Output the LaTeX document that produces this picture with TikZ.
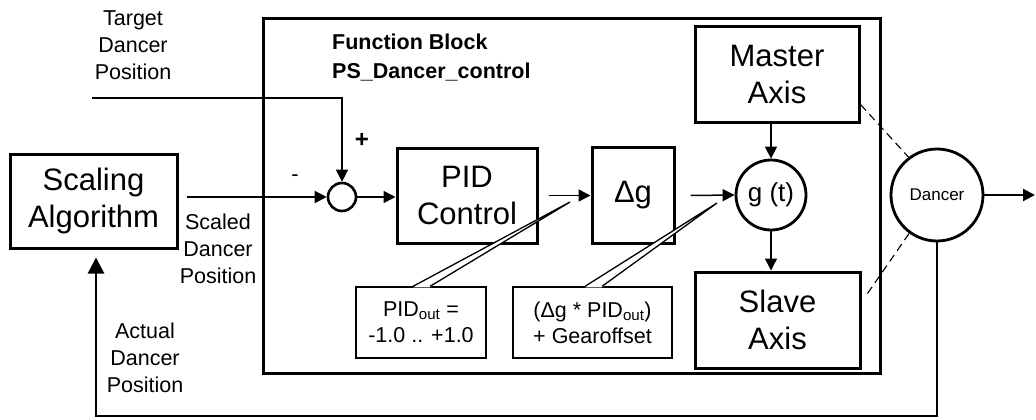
\documentclass[tikz,border=0pt]{standalone}
\usepackage{fontspec}
\setmainfont{Liberation Sans}
\usetikzlibrary{arrows.meta, positioning, calc}

\begin{document}
\begin{tikzpicture}[x=1pt, y=-1pt,
        blk/.style={draw, line width=3pt, align=center, inner sep=0pt, font=\fontsize{31}{37}\selectfont},
        note/.style={align=center, inner sep=0pt, font=\fontsize{21.5}{27}\selectfont},
        callout/.style={draw, line width=1.3pt, align=center, inner sep=0pt, font=\fontsize{21.5}{26}\selectfont},
        ring/.style={draw, circle, inner sep=0pt, line width=2.8pt},
        arr/.style={-{Triangle[length=12pt, width=12pt]}, line width=1.5pt}]
        \useasboundingbox (0,0) rectangle (1036,420);
        % function block frame
        \node[draw, line width=3pt, minimum width=617pt, minimum height=354pt] (fb) at (571.5,196) {};
        \node[anchor=west, align=left, inner sep=0pt, font=\fontsize{21.5}{29}\selectfont\bfseries] (fbtitle) at (332,57.5) {Function Block\\PS\_Dancer\_control};
        % blocks
        \node[blk, minimum width=167pt, minimum height=94pt] (scale) at (93.5,201) {Scaling\\Algorithm};
        \node[ring, line width=2.6pt, minimum size=28pt] (sum) at (342,197) {};
        \node[blk, minimum width=140pt, minimum height=95pt] (pid) at (467,195.5) {PID\\Control};
        \node[blk, minimum width=82pt, minimum height=96pt] (dg) at (633,195.5) {Δg};
        \node[ring, minimum size=70pt, font=\fontsize{26}{30}\selectfont] (gt) at (771,195) {g (t)};
        \node[blk, minimum width=164pt, minimum height=95pt] (master) at (777,74.5) {Master\\Axis};
        \node[blk, minimum width=165pt, minimum height=96pt] (slave) at (777.5,320) {Slave\\Axis};
        \node[ring, minimum size=92pt, font=\fontsize{17}{20}\selectfont] (dancer) at (937,195) {Dancer};
        % labels
        \node[note] (target) at (133,45) {Target\\Dancer\\Position};
        \node[note] (scaled) at (218,249) {Scaled\\Dancer\\Position};
        \node[note] (actual) at (145,358) {Actual\\Dancer\\Position};
        \node[font=\fontsize{24}{28}\selectfont\bfseries] (plus) at (362,140) {+};
        \node[font=\fontsize{22}{26}\selectfont] (minus) at (295,178) {-};
        % signal flow
        \coordinate (tgt) at (92,98);
        \coordinate (out) at (1035,195);
        \coordinate (loop) at (96,416);
        \draw[arr, line width=1.1pt] (tgt) -| (sum.north);
        \draw[arr] ($(sum.west -| scale.east)+(8,0)$) -- (sum.west);
        \draw[arr] (sum.east) -- (sum.east -| pid.west);
        \draw[arr] ($(pid.east)+(10,0)$) -- (dg.west);
        \draw[arr] ($(dg.east)+(15,0)$) -- (gt.west);
        \draw[arr] (gt.north |- master.south) -- (gt.north);
        \draw[arr] (gt.south) -- (gt.south |- slave.north);
        \draw[arr, line width=2.2pt] (dancer.east) -- (dancer.east -| out);
        \draw[-{Triangle[length=16pt, width=16pt]}, line width=2.8pt] (dancer.south) |- (loop) -- ($(loop |- scale.south)+(0,8)$);
        \draw[line width=1.1pt, dash pattern=on 8pt off 5pt] ($(master.south east)+(0,-19)$) -- (dancer.127);
        \draw[line width=1.1pt, dash pattern=on 8pt off 5pt] ($(slave.north east)+(6,23)$) -- (dancer.234);
        % callouts
        \node[callout, minimum width=130pt, minimum height=71pt] (pidout) at (421,322.5) {PID\textsubscript{out} =\\-1.0 .. +1.0};
        \node[callout, minimum width=159pt, minimum height=71pt] (gear) at (592.5,322.5) {(Δg * PID\textsubscript{out})\\+ Gearoffset};
        \coordinate (tip1) at (570,202);
        \coordinate (tip2) at (717,203);
        \fill[white] ($(pidout.north)+(-8,1)$) -- (tip1) -- ($(pidout.north)+(9,1)$) -- cycle;
        \draw[line width=1.3pt] ([xshift=-8pt]pidout.north) -- (tip1) -- ([xshift=9pt]pidout.north);
        \fill[white] ($(gear.north)+(-7.5,1)$) -- (tip2) -- ($(gear.north)+(9.5,1)$) -- cycle;
        \draw[line width=1.3pt] ([xshift=-7.5pt]gear.north) -- (tip2) -- ([xshift=9.5pt]gear.north);
    \end{tikzpicture}
\end{document}
